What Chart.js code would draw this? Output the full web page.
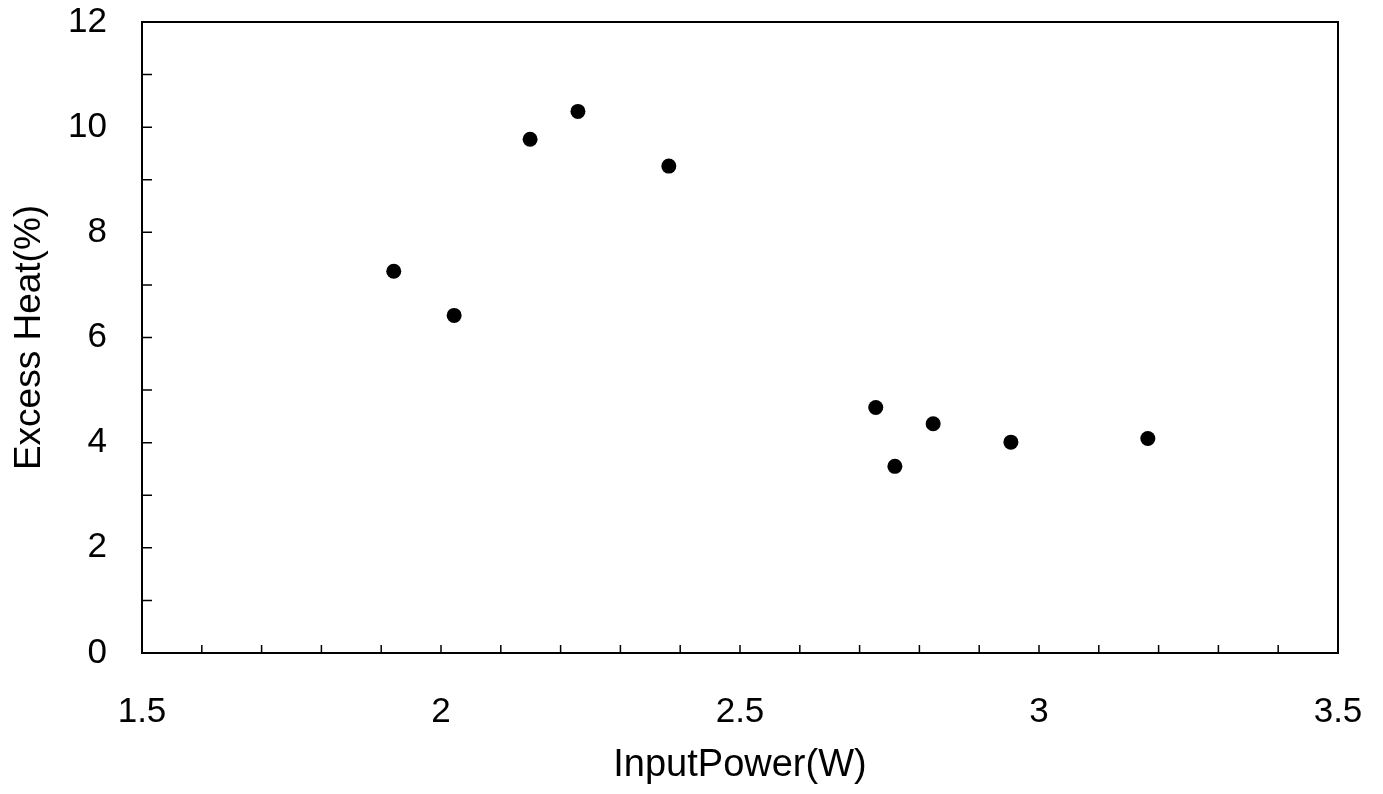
<!DOCTYPE html>
<html>
<head>
<meta charset="utf-8">
<script src="https://cdn.jsdelivr.net/npm/chart.js@4"></script>
<style>
  body { margin: 0; background: #fff; }
  #wrap { width: 1383px; height: 794px; }
</style>
</head>
<body>
<div id="wrap"><canvas id="chart"></canvas></div>
<script>
const inputPower = [1.921, 2.022, 2.149, 2.229, 2.381, 2.727, 2.759, 2.823, 2.953, 3.182];
const excessHeat = [7.26, 6.42, 9.77, 10.30, 9.26, 4.67, 3.55, 4.36, 4.01, 4.08];

const xTickLabels = ["1.5", "2", "2.5", "3", "3.5"];
const yTickLabels = ["0", "2", "4", "6", "8", "10", "12"];

const tickFont = { family: "'Liberation Sans', Arial, sans-serif", size: 35 };
const titleFont = { family: "'Liberation Sans', Arial, sans-serif", size: 38 };

// frame box + inward tick marks
const framePlugin = {
  id: "frame",
  afterDraw(chart) {
    const ctx = chart.ctx;
    const a = chart.chartArea;
    const xs = chart.scales.x;
    const ys = chart.scales.y;
    ctx.save();
    ctx.strokeStyle = "#000";
    ctx.lineWidth = 2;
    ctx.strokeRect(a.left, a.top, a.right - a.left, a.bottom - a.top);
    ctx.lineWidth = 1.5;
    ctx.beginPath();
    xs.ticks.forEach((t) => {
      const px = xs.getPixelForValue(t.value);
      ctx.moveTo(px, a.bottom);
      ctx.lineTo(px, a.bottom - 8);
    });
    ys.ticks.forEach((t) => {
      const py = ys.getPixelForValue(t.value);
      ctx.moveTo(a.left, py);
      ctx.lineTo(a.left + 10, py);
    });
    ctx.stroke();
    ctx.restore();
  },
};

const points = inputPower.map((x, i) => ({ x: x, y: excessHeat[i] }));

new Chart(document.getElementById("chart"), {
  type: "scatter",
  data: {
    datasets: [
      {
        data: points,
        backgroundColor: "#000",
        borderColor: "#000",
        borderWidth: 0,
        pointRadius: 7.5,
      },
    ],
  },
  options: {
    responsive: true,
    maintainAspectRatio: false,
    animation: false,
    layout: { padding: { top: 22, right: 45, left: 0, bottom: 0 } },
    plugins: {
      legend: { display: false },
      tooltip: { enabled: false },
    },
    scales: {
      x: {
        type: "linear",
        min: 1.5,
        max: 3.5,
        afterFit(scale) {
          scale.height = 141;
          scale.paddingLeft = 0;
          scale.paddingRight = 0;
        },
        grid: { display: false, drawTicks: false },
        border: { display: false },
        ticks: {
          stepSize: 0.1,
          autoSkip: false,
          maxRotation: 0,
          padding: 38,
          color: "#000",
          font: tickFont,
          callback(value) {
            const r = Math.round(value * 10);
            const s = String(r / 10);
            return xTickLabels.includes(s) ? s : "";
          },
        },
        title: {
          display: true,
          text: "InputPower(W)",
          color: "#000",
          padding: { top: 0, bottom: 6 },
          font: titleFont,
        },
      },
      y: {
        type: "linear",
        min: 0,
        max: 12,
        afterFit(scale) {
          scale.width = 142;
          scale.paddingTop = 0;
          scale.paddingBottom = 0;
        },
        grid: { display: false, drawTicks: false },
        border: { display: false },
        ticks: {
          stepSize: 1,
          autoSkip: false,
          padding: 35,
          color: "#000",
          font: tickFont,
          callback(value) {
            const s = String(Math.round(value));
            return yTickLabels.includes(s) ? s : "";
          },
        },
        title: {
          display: true,
          text: "Excess Heat(%)",
          color: "#000",
          padding: { top: 8, bottom: 0 },
          font: { family: titleFont.family, size: 37 },
        },
      },
    },
  },
  plugins: [framePlugin],
});
</script>
</body>
</html>
